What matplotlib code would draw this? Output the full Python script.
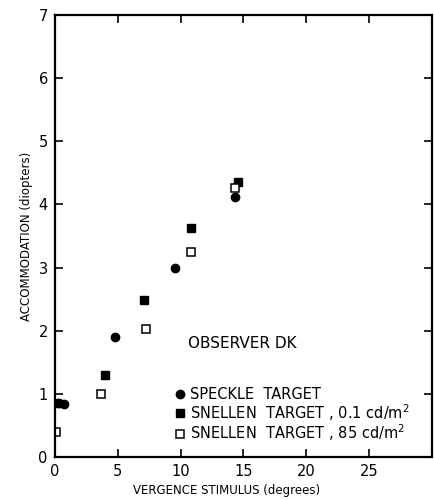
import numpy as np
import matplotlib
matplotlib.use("Agg")
import matplotlib.pyplot as plt

            #### DATA ####

speckle_x = [0.3, 0.7, 4.8, 9.6, 14.3]
speckle_y = [0.85, 0.84, 1.90, 3.00, 4.12]

snellen_dim_x = [0.0, 4.0, 7.1, 10.8, 14.6]
snellen_dim_y = [0.86, 1.30, 2.48, 3.63, 4.36]

snellen_bright_x = [0.1, 3.65, 7.25, 10.8, 14.3]
snellen_bright_y = [0.39, 1.00, 2.03, 3.24, 4.26]

x_ticks = [0, 5, 10, 15, 20, 25, 30]
x_ticklabels = ['0', '5', '10', '15', '20', '25', '']
y_ticks = [0, 1, 2, 3, 4, 5, 6, 7]

            #### PLOT ####

plt.rcParams['font.family'] = ['DejaVu Sans']
fig = plt.figure(figsize=(4.35, 5.0), dpi=100)
ax = fig.add_axes([0.126, 0.086, 0.867, 0.884])

ax.plot(speckle_x, speckle_y, 'o', color='black', markersize=6,
        linestyle='none', label='SPECKLE  TARGET')
ax.plot(snellen_dim_x, snellen_dim_y, 's', color='black', markersize=5.5,
        linestyle='none', label=r'SNELLEN  TARGET , 0.1 cd/m$^2$')
ax.plot(snellen_bright_x, snellen_bright_y, 's', markerfacecolor='white',
        markeredgecolor='black', markeredgewidth=1.1, markersize=5.5,
        linestyle='none', label=r'SNELLEN  TARGET , 85 cd/m$^2$')

ax.set_xlim(0, 30)
ax.set_ylim(0, 7)
ax.set_xticks(x_ticks)
ax.set_xticklabels(x_ticklabels)
ax.set_yticks(y_ticks)
ax.tick_params(direction='in', top=True, right=True, length=6, width=1.2,
               labelsize=10.5, pad=5)
ax.tick_params(axis='y', labelright=False)
for s in ax.spines.values():
    s.set_linewidth(1.6)

ax.set_xlabel('VERGENCE STIMULUS (degrees)', fontsize=8.5)
ax.xaxis.set_label_coords(0.455, -0.062)
ax.set_ylabel('ACCOMMODATION (diopters)', fontsize=8.5, labelpad=4)

ax.text(10.6, 1.8, 'OBSERVER DK', fontsize=11, va='center', ha='left')

ax.legend(loc='lower left', bbox_to_anchor=(0.30, 0.018), frameon=False,
          fontsize=10.5, handletextpad=0.2, labelspacing=0.0,
          handlelength=0.9, borderaxespad=0)

plt.savefig('out.png', dpi=100)
plt.close()
